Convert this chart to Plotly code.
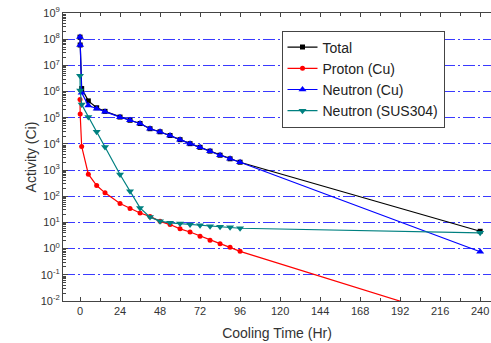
import plotly.graph_objects as go

times = [0, 0.1, 1, 5, 10, 15, 24, 30, 36, 42, 48, 54, 60, 66, 72, 78, 84, 90, 96, 240]
total = [1.2e8, 6e7, 1.3e6, 4.4e5, 2.4e5, 1.75e5, 1.06e5, 8e4, 6e4, 3.8e4, 2.9e4, 2.1e4,
         1.45e4, 1.02e4, 7.4e3, 5.3e3, 3.7e3, 2.7e3, 2.0e3, 4.6]
proton_cu = [5e5, 1.4e5, 8e3, 700, 257, 135, 53, 34, 23, 17, 11, 8.3, 5.7, 4.3, 3.0, 2.1,
             1.55, 1.12, 0.79, 1.1e-3]
neutron_cu = [1.2e8, 6e7, 9e5, 2.9e5, 2.2e5, 1.7e5, 1.05e5, 8e4, 6e4, 3.8e4, 2.9e4, 2.1e4,
              1.45e4, 1.02e4, 7.4e3, 5.3e3, 3.7e3, 2.7e3, 2.0e3, 0.76]
neutron_sus = [4e6, 1.1e6, 3.2e5, 1.07e5, 2.9e4, 7.6e3, 680, 155, 36, 16, 11.2, 9.7, 9.1,
               8.3, 7.8, 7.2, 6.8, 6.6, 6.0, 4.0]

x_ticks = [0, 24, 48, 72, 96, 120, 144, 168, 192, 216, 240]
y_exps = list(range(-2, 10))
y_ticks = [10.0 ** e for e in y_exps]
y_ticktext = ["10<sup>%d</sup>" % e for e in y_exps]
y_minor = [m * 10.0 ** e for e in range(-2, 9) for m in range(2, 10)]

series = [
    ("Total", total, "#000000", "square", 5),
    ("Proton (Cu)", proton_cu, "#ff0000", "circle", 5),
    ("Neutron (Cu)", neutron_cu, "#0000ff", "triangle-up", 7),
    ("Neutron (SUS304)", neutron_sus, "#008080", "triangle-down", 7),
]

fig = go.Figure()
for name, vals, col, sym, sz in series:
    fig.add_trace(go.Scatter(
        x=times, y=vals, name=name, mode="lines+markers",
        line=dict(color=col, width=1.2),
        marker=dict(color=col, symbol=sym, size=sz),
        cliponaxis=True,
    ))

axis_font = dict(family="Liberation Sans, Arial, sans-serif", size=11, color="#333")
fig.update_layout(
    width=491, height=343,
    margin=dict(l=63, r=0, t=13, b=42, autoexpand=False),
    paper_bgcolor="white", plot_bgcolor="white",
    font=dict(family="Liberation Sans, Arial, sans-serif", color="#222"),
    showlegend=True,
    legend=dict(
        x=(281.5 - 63) / 428, y=1 - (30.5 - 13) / 288, xanchor="left", yanchor="top",
        bgcolor="white", bordercolor="#444", borderwidth=1,
        font=dict(size=14, color="#222"),
        tracegroupgap=0, itemwidth=30,
    ),
    xaxis=dict(
        range=[-10.2, 246.5], tickvals=x_ticks, ticks="inside", ticklen=4,
        tickcolor="#444", showline=True, linecolor="#444", linewidth=1,
        mirror="ticks", showgrid=False, zeroline=False, automargin=False,
        minor=dict(ticks="inside", ticklen=3, dtick=12, tick0=0, tickcolor="#444", showgrid=False),
        tickfont=axis_font,
        title=dict(text="Cooling Time (Hr)", font=dict(size=14, color="#333"), standoff=11),
    ),
    yaxis=dict(
        type="log", range=[-2, 9], tickvals=y_ticks, ticktext=y_ticktext,
        ticks="inside", ticklen=5, tickcolor="#444",
        showline=True, linecolor="#444", linewidth=1, mirror=False,
        showgrid=True, gridcolor="#3a3aff", griddash="12px,3px,2px,3px", gridwidth=1,
        zeroline=False, automargin=False,
        minor=dict(ticks="inside", ticklen=3, tickvals=y_minor, tickcolor="#444", showgrid=False),
        tickfont=axis_font,
        title=dict(text="Activity (Ci)", font=dict(size=14, color="#333"), standoff=0),
    ),
)
fig.write_html("out.html", config={"displayModeBar": False},
               post_script="document.body.style.margin='0';document.body.style.padding='0';")
